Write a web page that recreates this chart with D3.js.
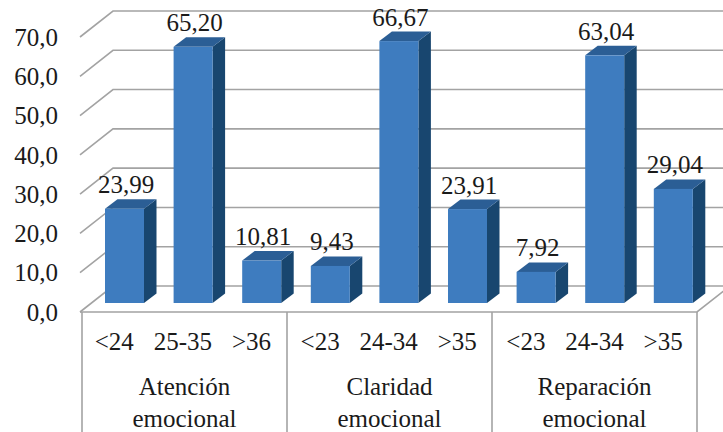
<!DOCTYPE html>
<html>
<head>
<meta charset="utf-8">
<script src="https://cdn.jsdelivr.net/npm/d3@7"></script>
</head>
<body style="margin:0">
<svg id="chart" width="723" height="432"></svg>
<script>
// Score bands per dimension and the share (%) in each band
const groups = ["Atención\nemocional", "Claridad\nemocional", "Reparación\nemocional"];
const bands = ["<24", "25-35", ">36", "<23", "24-34", ">35", "<23", "24-34", ">35"];
const values = [23.99, 65.20, 10.81, 9.43, 66.67, 23.91, 7.92, 63.04, 29.04];
const yTicks = [0, 10, 20, 30, 40, 50, 60, 70];

const svg = d3.select("#chart");
const fontSize = 25;
const textColor = "#1a1a1a";
const fontName = "Times New Roman";
const fmt = v => d3.format(".2f")(v).replace(".", ",");
const fmtTick = v => d3.format(".1f")(v).replace(".", ",");

// floor front edge and wall depth (oblique projection)
const left = 80, floorRight = 697, floorY = 312;
const depthX = 33, depthY = -26;
const barDepthX = 12.5, barDepthY = -9.5;

const yFront = d3.scaleLinear().domain([0, 70]).range([floorY, floorY - 275]);
const yBar = d3.scaleLinear().domain([0, 70]).range([303, 303 - 275]);

const x = d3.scaleBand().domain(d3.range(values.length)).range([82, 699.4]);
const gx = d3.scaleBand().domain(groups).range([82, 697]);
const barW = 39, barOff = 23;

function addText(parent, tx, ty, str, anchor, dy) {
  return parent.append("text")
    .attr("x", tx).attr("y", ty).attr("dy", dy || null)
    .attr("text-anchor", anchor)
    .attr("font-family", fontName)
    .style("font-family", `"${fontName}"`)
    .attr("font-size", fontSize)
    .attr("fill", textColor)
    .text(str);
}

const grid = svg.append("g").attr("stroke", "#a3a3a3").attr("stroke-width", 1.6).attr("fill", "none");

// gridlines on the side wall and back wall
yTicks.forEach(t => {
  const yf = yFront(t);
  grid.append("path")
    .attr("d", `M${left},${yf}L${left + depthX},${yf + depthY}L723,${yf + depthY}`);
});

// floor front edge, right floor edge and category dividers
grid.append("path").attr("d", `M${left},${floorY}L${floorRight},${floorY}L${floorRight + depthX},${floorY + depthY}`);
gx.domain().forEach(g => {
  grid.append("line").attr("x1", gx(g)).attr("x2", gx(g)).attr("y1", floorY).attr("y2", 432);
});
grid.append("line").attr("x1", floorRight).attr("x2", floorRight).attr("y1", floorY).attr("y2", 432);

// y tick labels
yTicks.forEach(t => addText(svg, 58, yFront(t), fmtTick(t), "end", "0.35em"));

// 3D bars
values.forEach((v, i) => {
  const g = svg.append("g");
  const x0 = x(i) + barOff, x1 = x0 + barW;
  const yb = yBar(0), yt = yBar(v);
  // side
  g.append("path")
    .attr("d", `M${x1},${yt}L${x1 + barDepthX},${yt + barDepthY}L${x1 + barDepthX},${yb + barDepthY}L${x1},${yb}Z`)
    .attr("fill", "#18466f");
  // top
  g.append("path")
    .attr("d", `M${x0},${yt}L${x0 + barDepthX},${yt + barDepthY}L${x1 + barDepthX},${yt + barDepthY}L${x1},${yt}Z`)
    .attr("fill", "#2b5e95");
  // front
  g.append("rect").attr("x", x0).attr("y", yt).attr("width", barW).attr("height", yb - yt)
    .attr("fill", "#3e7cbf");
  // value label
  addText(svg, x0 + 21, yt + barDepthY - 6, fmt(v), "middle");
});

// band labels
bands.forEach((b, i) => addText(svg, x(i) + x.bandwidth() / 2 - 2, 350, b, "middle"));

// dimension labels, one text per line
groups.forEach(gname => {
  gname.split("\n").forEach((line, k) => {
    addText(svg, gx(gname) + gx.bandwidth() / 2, 395 + k * 32, line, "middle");
  });
});
</script>
</body>
</html>
